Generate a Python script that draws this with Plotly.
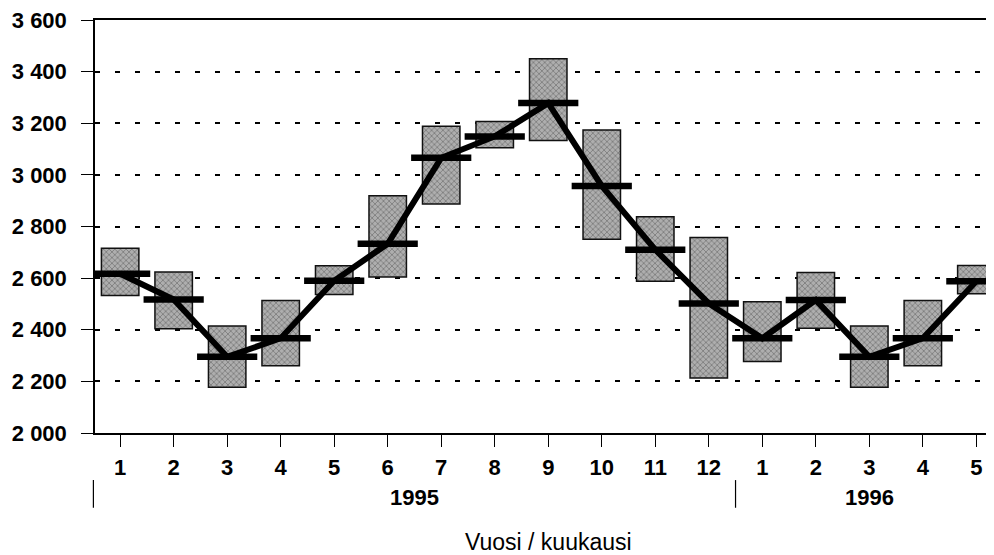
import plotly.graph_objects as go

# ---- data ----
month_labels = ["1", "2", "3", "4", "5", "6", "7", "8", "9", "10", "11", "12",
                "1", "2", "3", "4", "5"]
year_labels = ["1995", "1996"]
year_months = [12, 5]  # number of months in each year group
low_values = [2533, 2404, 2177, 2261, 2537, 2604, 2887, 3105, 3133, 2751, 2588, 2213,
              2277, 2406, 2177, 2261, 2539]
high_values = [2716, 2624, 2415, 2513, 2648, 2919, 3188, 3207, 3450, 3174, 2838, 2757,
               2508, 2622, 2415, 2513, 2649]
mean_values = [2617, 2517, 2295, 2367, 2590, 2733, 3066, 3149, 3278, 2957, 2710, 2502,
               2367, 2515, 2295, 2367, 2588]
x_title = "Vuosi / kuukausi"

idx = list(range(len(month_labels)))
FONT = "Liberation Sans, Arial, sans-serif"
X_RANGE = [-0.47, 16.33]

fig = go.Figure()

# range boxes
fig.add_trace(go.Bar(
    x=idx,
    y=[h - l for h, l in zip(high_values, low_values)],
    base=low_values,
    width=0.7,
    marker=dict(
        color="#a0a0a0",
        line=dict(color="#111111", width=1.5),
        pattern=dict(shape="x", fgcolor="#505050", bgcolor="#aeaeae", size=4, solidity=0.4),
    ),
    hoverinfo="skip",
    showlegend=False,
))

# connecting line through the means
fig.add_trace(go.Scatter(
    x=idx, y=mean_values, mode="lines",
    line=dict(color="black", width=6),
    hoverinfo="skip", showlegend=False,
))

# mean markers (horizontal bars)
fig.add_trace(go.Scatter(
    x=idx, y=mean_values, mode="markers",
    marker=dict(symbol="line-ew", size=43, line=dict(color="black", width=6.5)),
    hoverinfo="skip", showlegend=False,
))


def xpaper(v):
    return (v - X_RANGE[0]) / (X_RANGE[1] - X_RANGE[0])


# year group separators and labels
shapes = []
annotations = []
start = 0
bounds = [-0.5]
for lab, n in zip(year_labels, year_months):
    end = start + n
    bounds.append(end - 0.5)
    annotations.append(dict(
        x=xpaper((start + end - 1) / 2), xref="paper", y=-0.155, yref="paper",
        text=lab, showarrow=False,
        font=dict(family=FONT, size=22, color="black", weight="bold"),
        xanchor="center", yanchor="middle",
    ))
    start = end
for b in bounds[:-1]:
    shapes.append(dict(
        type="line", xref="paper", yref="paper",
        x0=xpaper(b), x1=xpaper(b), y0=-0.114, y1=-0.181,
        line=dict(color="black", width=1.2),
    ))

annotations.append(dict(
    x=0.505, xref="paper", y=-0.263, yref="paper", text=x_title, showarrow=False,
    font=dict(family=FONT, size=23, color="black"), xanchor="center", yanchor="middle",
))

# page body has an 8px default margin, so the figure is 8px smaller than the window
fig.update_layout(
    width=986, height=547,
    margin=dict(l=87, r=0, t=9, b=122),
    paper_bgcolor="white", plot_bgcolor="white",
    separators=", ",
    font=dict(family=FONT, color="black"),
    shapes=shapes, annotations=annotations,
    bargap=0.3,
)

fig.update_xaxes(
    range=X_RANGE,
    tickvals=idx, ticktext=month_labels,
    ticks="outside", ticklen=12, tickwidth=1.2, tickcolor="black",
    tickfont=dict(family=FONT, size=22, color="black", weight="bold"),
    ticklabelstandoff=2, ticklabeloverflow="allow",
    showline=True, linecolor="black", linewidth=2, mirror=True,
    showgrid=False, zeroline=False,
)
fig.update_yaxes(
    range=[2000, 3600], dtick=200, tick0=2000,
    tickformat=",d",
    ticks="outside", ticklen=12, tickwidth=1.2, tickcolor="black",
    tickfont=dict(family=FONT, size=22, color="black", weight="bold"),
    ticklabelstandoff=10, ticklabeloverflow="allow",
    showline=True, linecolor="black", linewidth=1.5,
    showgrid=True, gridcolor="black", gridwidth=2, griddash="5px,15px",
    zeroline=False,
)

fig.write_html("out.html")
